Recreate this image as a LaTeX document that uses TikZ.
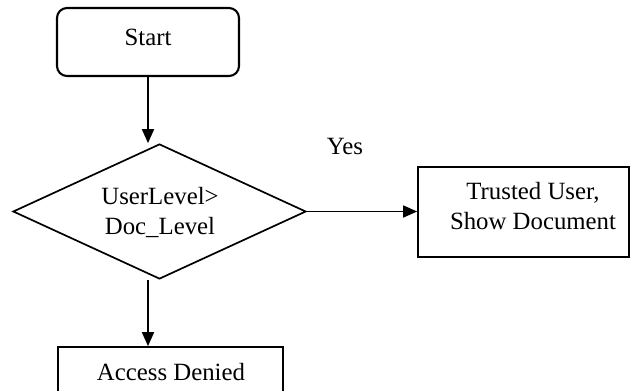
\documentclass[tikz,border=0pt]{standalone}
\usepackage{fontspec}
\setmainfont{Liberation Serif}
\usetikzlibrary{shapes.geometric,arrows.meta}
\begin{document}
\begin{tikzpicture}[x=1pt,y=-1pt,
  txt/.style={font=\fontsize{24.8}{30}\selectfont, inner sep=0pt, align=center},
  box/.style={draw, line width=1.7pt, inner sep=0pt},
  flow/.style={line width=1.7pt, -{Triangle[width=12pt,length=14pt]}}]
\useasboundingbox (0,0) rectangle (635,391);
\clip (0,0) rectangle (635,391);

% shapes
\node[box, rounded corners=10pt, line width=2.1pt,
      minimum width=182pt, minimum height=68pt] (start) at (148,42) {};
\node[box, diamond, minimum width=293pt, minimum height=135pt] (dec) at (159.5,211.5) {};
\node[box, minimum width=211pt, minimum height=90pt] (trust) at (523.5,212) {};
\node[box, minimum width=225pt, minimum height=50pt] (deny) at (170.5,372) {};

% labels
\node[txt] (tstart) at (148,37) {Start};
\node[txt] (tdec) at (160,212) {UserLevel>\\Doc\_Level};
\node[txt] (ttrust) at (533,206) {Trusted User,\\Show Document};
\node[txt] (tdeny) at (171,372) {Access Denied};
\node[txt] (yes) at (345,146) {Yes};

% connectors
\draw[flow] (start.south) -- (start.south |- dec.north);
\draw[flow] (dec.east) -- (dec.east -| trust.west);
\draw[flow] (start.south |- dec.south) -- (start.south |- deny.north);
\end{tikzpicture}
\end{document}
